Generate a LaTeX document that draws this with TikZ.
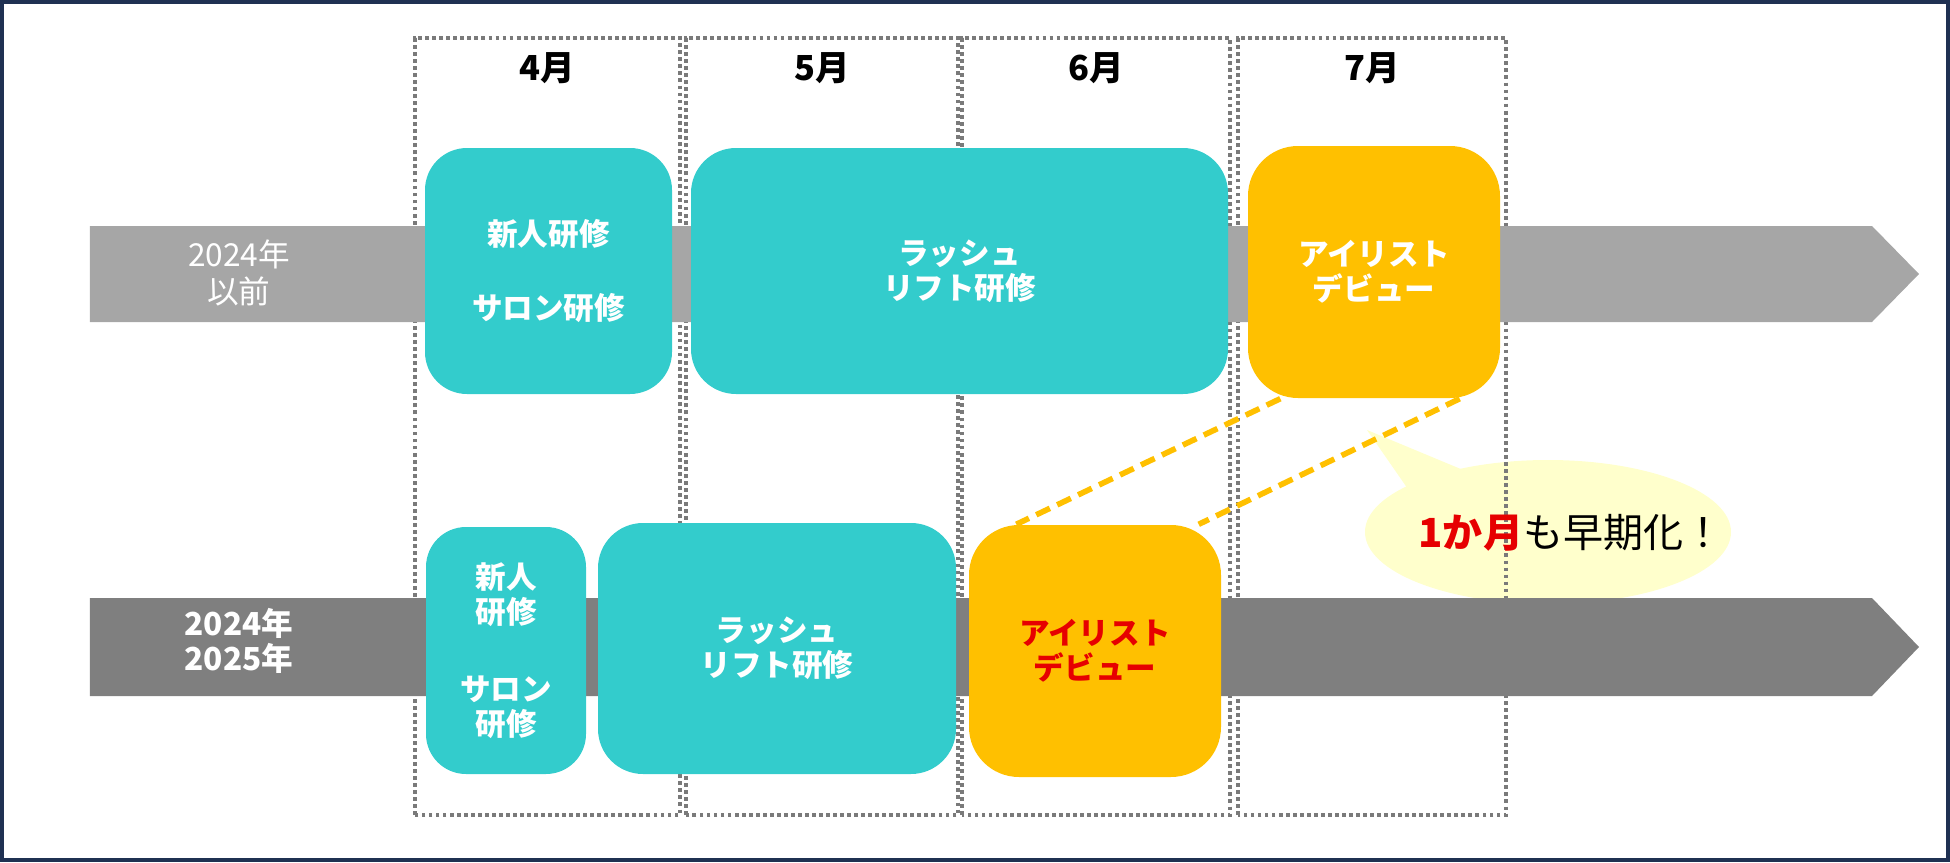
\documentclass[tikz,border=0pt]{standalone}
\usepackage{fontspec}
\setmainfont{Noto Sans CJK JP}
\usepackage{xcolor}
\usetikzlibrary{calc}

\definecolor{frameblue}{HTML}{1F3152}
\definecolor{lashteal}{HTML}{33CCCC}
\definecolor{debutgold}{HTML}{FFC000}
\definecolor{barlight}{HTML}{A6A6A6}
\definecolor{bardark}{HTML}{7F7F7F}
\definecolor{colgray}{HTML}{7A7A7A}
\definecolor{hotred}{HTML}{E60000}
\definecolor{notecream}{HTML}{FFFFCC}

\begin{document}
\begin{tikzpicture}[
  stage/.style={rounded corners=0.45cm, inner sep=0pt, align=center, text=white,
    font=\fontsize{8.7}{10}\selectfont\bfseries},
  lash/.style={stage, fill=lashteal},
  debut/.style={stage, fill=debutgold},
  monthcol/.style={draw=colgray, line width=1.1pt, dash pattern=on 1.1pt off 0.9pt},
  link/.style={draw=debutgold, line width=1.6pt, dash pattern=on 4.3pt off 2.3pt}
]
  \useasboundingbox (0,0) rectangle (19.5,8.62);
  \draw[frameblue, line width=0.04cm] (0.02,0.02) rectangle (19.48,8.60);

  % speech bubble (behind the columns)
  \fill[notecream] (15.48,3.30) ellipse [x radius=1.83cm, y radius=0.72cm];
  \fill[notecream] (13.67,4.32) -- (14.80,3.85) -- (14.10,3.70) -- cycle;

  % month columns
  \foreach \xa/\xb/\m in {4.15/6.80/4, 6.86/9.58/5, 9.62/12.30/6, 12.38/15.06/7} {
    \draw[monthcol] (\xa,0.47) rectangle (\xb,8.24);
    \node[font=\fontsize{9.8}{11}\selectfont\bfseries] (m\m) at ({(\xa+\xb)/2},7.94) {\m 月};
  }

  % timelines
  \fill[barlight] (0.90,6.36) -- (18.72,6.36) -- (19.19,5.88) -- (18.72,5.40) -- (0.90,5.40) -- cycle;
  \fill[bardark] (0.90,2.64) -- (18.72,2.64) -- (19.19,2.15) -- (18.72,1.66) -- (0.90,1.66) -- cycle;
  \node[text=white, align=center, font=\fontsize{9}{10.5}\selectfont] (oldyear) at (2.39,5.89) {2024年\\以前};
  \node[text=white, align=center, font=\fontsize{9}{10}\selectfont\bfseries] (newyear) at (2.39,2.21) {2024年\\2025年};

  % until 2024
  \node[lash, minimum width=2.47cm, minimum height=2.46cm, rounded corners=0.42cm] (introA) at (5.485,5.91) {新人研修\\[0.38cm]サロン研修};
  \node[lash, minimum width=5.37cm, minimum height=2.46cm] (liftA) at (9.595,5.91) {ラッシュ\\リフト研修};
  \node[debut, minimum width=2.52cm, minimum height=2.52cm, rounded corners=0.5cm] (debutA) at (13.74,5.90) {アイリスト\\デビュー};

  % 2024-2025
  \node[lash, minimum width=1.60cm, minimum height=2.47cm, rounded corners=0.4cm] (introB) at (5.06,2.115) {新人\\研修\\[0.42cm]サロン\\研修};
  \node[lash, minimum width=3.58cm, minimum height=2.51cm] (liftB) at (7.77,2.135) {ラッシュ\\リフト研修};
  \node[debut, minimum width=2.52cm, minimum height=2.52cm, rounded corners=0.5cm, text=hotred] (debutB) at (10.95,2.11) {アイリスト\\デビュー};

  % one month earlier
  \draw[link] ($(debutA.south west)+(0.33,0)$) -- ($(debutB.north west)+(0.48,0)$);
  \draw[link] ($(debutA.south east)+(-0.41,0)$) -- ($(debutB.north east)+(-0.23,0)$);
  \node[font=\fontsize{11.4}{13}\selectfont] (gain) at (15.71,3.29) {\textcolor{hotred}{\bfseries 1か月}も早期化！};
\end{tikzpicture}
\end{document}
